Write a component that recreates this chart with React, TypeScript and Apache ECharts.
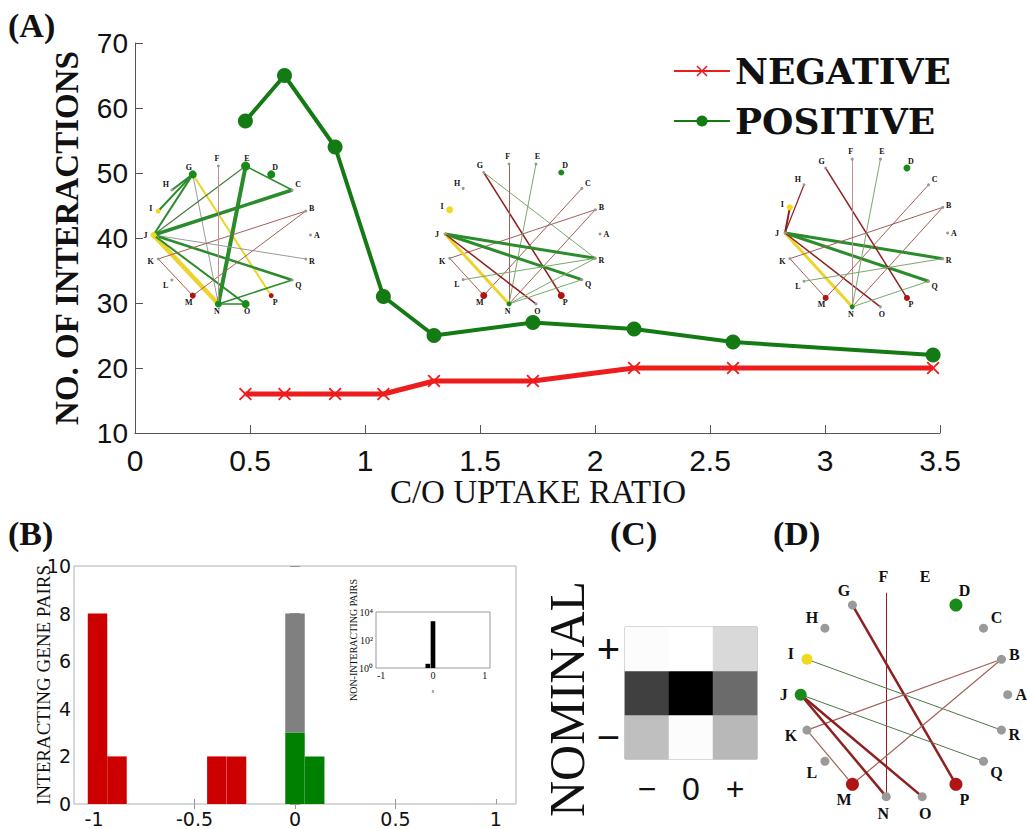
import React, { useEffect, useRef } from 'react';
import * as echarts from 'echarts';

// ---------- Panel A data ----------
const uptakeRatio = [0.48, 0.65, 0.87, 1.08, 1.3, 1.73, 2.17, 2.6, 3.47];
const negativeCounts = [16, 16, 16, 16, 18, 18, 20, 20, 20];
const positiveCounts = [58, 65, 54, 31, 25, 27, 26, 24, 22];

// ---------- Panel B data ----------
const histBinCenters = [-0.983, -0.886, -0.389, -0.291, 0.0, 0.098];
const histBinWidth = 0.097;
const histNegative = [8, 2, 2, 2, 0, 0];
const histPositive = [0, 0, 0, 0, 3, 2];
const histNeutral = [0, 0, 0, 0, 5, 0];

const insetBinCenters = [-0.1, 0.0];
const insetBinWidth = 0.09;
const insetCounts = [2, 2200];

// ---------- Panel C data ----------
const heatCategories = ['−', '0', '+'];
const heatRowMinus = [25, 1, 28];
const heatRowZero = [75, 100, 58];
const heatRowPlus = [1, 0, 15];

// ---------- Networks ----------
const geneNames = ['A', 'B', 'C', 'D', 'E', 'F', 'G', 'H', 'I', 'J', 'K', 'L', 'M', 'N', 'O', 'P', 'Q', 'R'];

const net1Nodes: Record<string, [string, number]> = { G: ['g', 8], E: ['g', 9], D: ['g', 8], O: ['g', 8], N: ['g', 7], J: ['y', 6], I: ['y', 5], M: ['r', 6], P: ['r', 5] };
const net1Edges: [string, string, string, number][] = [
  ['G', 'H', 'g', 2], ['G', 'I', 'g', 2], ['G', 'J', 'g', 2], ['G', 'N', 'gy', 1], ['G', 'P', 'y', 2],
  ['E', 'N', 'g', 4], ['E', 'J', 'dg', 1.2], ['E', 'C', 'g', 1.5], ['J', 'C', 'g', 3.5], ['J', 'R', 'gy', 1],
  ['J', 'Q', 'g', 2.5], ['J', 'N', 'y', 4.5], ['J', 'O', 'g', 2], ['K', 'B', 'br', 1], ['K', 'M', 'br', 1],
  ['M', 'B', 'br', 1], ['F', 'N', 'pk', 1], ['N', 'O', 'g', 1.5], ['N', 'Q', 'g', 1.5],
];

const net2Nodes: Record<string, [string, number]> = { D: ['g', 6], I: ['y', 7], M: ['r', 7], P: ['r', 7], N: ['g', 5] };
const net2Edges: [string, string, string, number][] = [
  ['G', 'P', 'r', 1.5], ['G', 'R', 'lg', 1], ['F', 'N', 'br', 1], ['E', 'N', 'lg', 1], ['C', 'M', 'br', 1],
  ['B', 'K', 'br', 1], ['B', 'N', 'br', 1], ['J', 'R', 'g', 3], ['J', 'Q', 'g', 3], ['J', 'N', 'y', 3],
  ['J', 'O', 'r', 1.5], ['K', 'M', 'br', 1], ['L', 'R', 'lg', 1], ['N', 'R', 'lg', 1], ['N', 'Q', 'lg', 1],
];

const net3Nodes: Record<string, [string, number]> = { D: ['g', 7], I: ['y', 6], M: ['r', 6], P: ['r', 6], N: ['g', 5] };
const net3Edges: [string, string, string, number][] = [
  ['H', 'J', 'r', 1.2], ['I', 'J', 'r', 2], ['J', 'R', 'g', 3], ['J', 'Q', 'g', 3], ['J', 'N', 'y', 3],
  ['J', 'O', 'r', 1.5], ['G', 'P', 'r', 1.5], ['F', 'N', 'pk', 1], ['E', 'N', 'lg', 1], ['C', 'M', 'br', 1],
  ['B', 'K', 'br', 1], ['B', 'N', 'br', 1], ['K', 'M', 'br', 1], ['L', 'R', 'lg', 1], ['N', 'Q', 'lg', 1],
];

const netDNodes: Record<string, [string, number]> = { D: ['g', 13], I: ['y', 11], J: ['g', 12], M: ['r', 13], P: ['r', 13] };
const netDEdges: [string, string, string, number][] = [
  ['G', 'P', 'r', 2.5], ['F', 'N', 'r', 1], ['I', 'R', 'dg', 1], ['J', 'Q', 'dg', 1], ['B', 'K', 'br', 1.2],
  ['B', 'M', 'br', 1.2], ['J', 'N', 'r', 2.5], ['J', 'O', 'r', 2.5], ['K', 'M', 'br', 1.2],
];

const NODE_COLORS: Record<string, string> = { g: '#1a8a1a', y: '#f0da1e', r: '#b01515', gray: '#9a9a9a' };
const EDGE_COLORS: Record<string, string> = {
  g: '#2a8c2a', dg: '#4a7a40', lg: '#7aa86a', y: '#ecd42c', r: '#8e2020', br: '#a06058', gy: '#9a9a9a', pk: '#c09090',
};

const RED = '#ee1d1d';
const GREEN = '#147a14';
const RED_X = 'path://M1,0L5,4L9,0L10,1L6,5L10,9L9,10L5,6L1,10L0,9L4,5L0,1Z';
const serif = 'Liberation Serif';

function networkSeries(
  axisIndex: number,
  nodes: Record<string, [string, number]>,
  edges: [string, string, string, number][],
  graySize: number,
  labelSize: number,
  labelDist: number,
  hidden: string[] = []
) {
  const data = geneNames.map((name, i) => {
    const a = (i * 20 * Math.PI) / 180;
    const st = nodes[name];
    const color = st ? NODE_COLORS[st[0]] : NODE_COLORS.gray;
    const size = hidden.includes(name) ? 0 : st ? st[1] : graySize;
    const d = Math.cos(a) > 0.9 ? labelDist * 0.8 : labelDist;
    return {
      name,
      value: [Math.cos(a), Math.sin(a)],
      symbolSize: size,
      itemStyle: { color },
      label: {
        show: true,
        position: 'inside',
        offset: [d * Math.cos(a), -d * Math.sin(a)],
        color: '#111',
        fontFamily: serif,
        fontWeight: 'bold',
        fontSize: labelSize,
        textBorderWidth: 0,
        formatter: '{b}',
      },
    };
  });
  const links = edges.map(([s, t, c, w]) => ({ source: s, target: t, lineStyle: { color: EDGE_COLORS[c], width: w, opacity: 1, curveness: 0 } }));
  return {
    type: 'graph',
    layout: 'none',
    coordinateSystem: 'cartesian2d',
    xAxisIndex: axisIndex,
    yAxisIndex: axisIndex,
    roam: false,
    silent: true,
    symbol: 'circle',
    data,
    links,
    lineStyle: { opacity: 1, curveness: 0 },
    emphasis: { disabled: true },
    z: 5,
  };
}

function histRenderer(color: string, width: number) {
  return (params: any, api: any) => {
    const x = api.value(0);
    const y0 = api.value(1);
    const y1 = api.value(2);
    if (y1 <= y0) return null;
    const p0 = api.coord([x - width / 2, y0]);
    const p1 = api.coord([x + width / 2, y1]);
    return {
      type: 'rect',
      shape: { x: p0[0], y: p1[1], width: p1[0] - p0[0], height: p0[1] - p1[1] },
      style: { fill: color },
    };
  };
}

function hiddenAxis(gridIndex: number) {
  return { gridIndex, type: 'value', min: -1, max: 1, show: false, splitLine: { show: false } };
}

function label(text: string, x: number, y: number, size: number, opts: any = {}) {
  return {
    type: 'text', x, y, rotation: opts.rotate ? Math.PI / 2 : 0,
    style: {
      text, fontFamily: serif, fontSize: size, fontWeight: opts.bold ? 'bold' : 'normal', fill: '#111',
      align: opts.align || 'left', verticalAlign: opts.valign || 'top',
      textAlign: opts.align || 'left', textVerticalAlign: opts.valign || 'top',
    },
  };
}

export default function App() {
  const ref = useRef<HTMLDivElement>(null);
  useEffect(() => {
    if (!ref.current) return;
    const chart = echarts.init(ref.current, null, { renderer: 'svg' });
    const heatData: [number, number, number][] = [];
    [heatRowMinus, heatRowZero, heatRowPlus].forEach((row, yi) => row.forEach((v, xi) => heatData.push([xi, yi, v])));

    const tickStyleA = { color: '#555', width: 1 };
    const option: any = {
      animation: false,
      textStyle: { fontFamily: 'Liberation Sans' },
      legend: {
        data: ['NEGATIVE', 'POSITIVE'],
        orient: 'vertical',
        left: 668,
        top: 48,
        itemWidth: 56,
        itemHeight: 14,
        itemGap: 14,
        selectedMode: false,
        textStyle: { fontFamily: 'DejaVu Serif', fontWeight: 'bold', fontSize: 36, color: '#111' },
      },
      graphic: [
        label('(A)', 8, 8, 34, { bold: true }),
        label('(B)', 8, 516, 34, { bold: true }),
        label('(C)', 610, 516, 34, { bold: true }),
        label('(D)', 773, 516, 34, { bold: true }),
        label('NO. OF INTERACTIONS', 67, 238, 33, { rotate: true, bold: true, align: 'center', valign: 'middle' }),
        label('C/O UPTAKE RATIO', 538, 492, 33, { align: 'center', valign: 'middle' }),
        label('INTERACTING GENE PAIRS', 43, 685, 19, { rotate: true, align: 'center', valign: 'middle' }),
        label('NON-INTERACTING PAIRS', 353, 640, 10, { rotate: true, align: 'center', valign: 'middle' }),
        label('NOMINAL', 567, 699, 50, { rotate: true, align: 'center', valign: 'middle' }),
      ],
      grid: [
        { left: 135, top: 43, width: 805, height: 390, outerBoundsMode: 'none' },
        { left: 74, top: 566, width: 442, height: 238, show: true, borderColor: '#b0b0b0', borderWidth: 1, outerBoundsMode: 'none' },
        { left: 376, top: 612, width: 114, height: 56, show: true, borderColor: '#999', borderWidth: 1, backgroundColor: '#fff', outerBoundsMode: 'none', z: 4 },
        { left: 625, top: 627, width: 132, height: 132, show: true, borderColor: '#999', borderWidth: 1, outerBoundsMode: 'none' },
        { left: 153.5, top: 165, width: 157, height: 140, outerBoundsMode: 'none' },
        { left: 445, top: 163, width: 155, height: 142, outerBoundsMode: 'none' },
        { left: 785, top: 158, width: 162.6, height: 150, outerBoundsMode: 'none' },
        { left: 800.7, top: 591.2, width: 207, height: 207, outerBoundsMode: 'none' },
      ],
      xAxis: [
        {
          gridIndex: 0, type: 'value', min: 0, max: 3.5, interval: 0.5,
          axisLine: { show: true, lineStyle: tickStyleA },
          axisTick: { show: true, inside: true, length: 8, lineStyle: tickStyleA },
          splitLine: { show: false },
          axisLabel: { fontSize: 30, color: '#111', margin: 12 },
        },
        {
          gridIndex: 1, type: 'value', min: -1.1, max: 1.1,
          axisLine: { show: false },
          axisTick: { show: true, inside: true, length: 5, customValues: [-1, -0.5, 0, 0.5, 1], lineStyle: { color: '#999' } },
          splitLine: { show: false },
          axisLabel: { customValues: [-1, -0.5, 0, 0.5, 1], fontSize: 19, fontFamily: 'DejaVu Sans', color: '#111', margin: 5 },
        },
        {
          gridIndex: 1, type: 'value', position: 'top', min: -1.1, max: 1.1,
          axisLine: { show: false },
          axisTick: { show: true, inside: true, length: 5, customValues: [-0.5, 0, 0.5], lineStyle: { color: '#999' } },
          splitLine: { show: false },
          axisLabel: { show: false },
        },
        {
          gridIndex: 2, type: 'value', min: -1.1, max: 1.1,
          axisLine: { show: false },
          axisTick: { show: true, inside: true, length: 2, customValues: [-1, 0, 1], lineStyle: { color: '#999' } },
          splitLine: { show: false },
          axisLabel: { customValues: [-1, 0, 1], fontSize: 10, fontFamily: serif, color: '#111', margin: 2 },
          name: 's', nameLocation: 'middle', nameGap: 20, nameTextStyle: { fontSize: 6, fontFamily: serif, color: '#333' },
        },
        {
          gridIndex: 3, type: 'category', data: heatCategories,
          axisLine: { show: false }, axisTick: { show: false }, splitLine: { show: false },
          axisLabel: { fontSize: 32, color: '#111', margin: 14 },
        },
        hiddenAxis(4), hiddenAxis(5), hiddenAxis(6), hiddenAxis(7),
      ],
      yAxis: [
        {
          gridIndex: 0, type: 'value', min: 10, max: 70, interval: 10,
          axisLine: { show: true, lineStyle: tickStyleA },
          axisTick: { show: true, inside: true, length: 8, lineStyle: tickStyleA },
          splitLine: { show: false },
          axisLabel: { fontSize: 28, color: '#111', margin: 7 },
        },
        {
          gridIndex: 1, type: 'value', min: 0, max: 10, interval: 2,
          axisLine: { show: false },
          axisTick: { show: true, inside: true, length: 5, lineStyle: { color: '#999' } },
          splitLine: { show: false },
          axisLabel: { fontSize: 19, fontFamily: 'DejaVu Sans', color: '#111', margin: 3 },
        },
        {
          gridIndex: 1, type: 'value', position: 'right', min: 0, max: 10, interval: 2,
          axisLine: { show: false },
          axisTick: { show: true, inside: true, length: 5, lineStyle: { color: '#999' } },
          splitLine: { show: false },
          axisLabel: { show: false },
        },
        {
          gridIndex: 2, type: 'log', logBase: 10, min: 1, max: 10000,
          axisLine: { show: false },
          axisTick: { show: false },
          splitLine: { show: false },
          axisLabel: {
            fontSize: 10, fontFamily: serif, color: '#111', margin: 3,
            formatter: (v: number) => (v === 1 ? '10⁰' : v === 100 ? '10²' : v === 10000 ? '10⁴' : ''),
          },
        },
        {
          gridIndex: 3, type: 'category', data: heatCategories,
          axisLine: { show: false }, axisTick: { show: false }, splitLine: { show: false },
          axisLabel: { fontSize: 40, color: '#111', margin: 5 },
        },
        hiddenAxis(4), hiddenAxis(5), hiddenAxis(6), hiddenAxis(7),
      ],
      visualMap: [
        { type: 'continuous', show: false, seriesIndex: 6, dimension: 2, min: 0, max: 100, inRange: { color: ['#ffffff', '#000000'] } },
      ],
      series: [
        {
          name: 'NEGATIVE', type: 'line', xAxisIndex: 0, yAxisIndex: 0,
          data: uptakeRatio.map((x, i) => [x, negativeCounts[i]]),
          symbol: RED_X, symbolSize: 13, showAllSymbol: true,
          lineStyle: { color: RED, width: 5 }, itemStyle: { color: RED }, z: 3,
        },
        {
          name: 'POSITIVE', type: 'line', xAxisIndex: 0, yAxisIndex: 0,
          data: uptakeRatio.map((x, i) => [x, positiveCounts[i]]),
          symbol: 'circle', symbolSize: 15, showAllSymbol: true,
          lineStyle: { color: GREEN, width: 4 }, itemStyle: { color: GREEN }, z: 3,
        },
        {
          type: 'custom', xAxisIndex: 1, yAxisIndex: 1, silent: true,
          renderItem: histRenderer('#cc0000', histBinWidth),
          data: histBinCenters.map((x, i) => [x, 0, histNegative[i]]),
          encode: { x: 0, y: [1, 2] },
        },
        {
          type: 'custom', xAxisIndex: 1, yAxisIndex: 1, silent: true,
          renderItem: histRenderer('#008000', histBinWidth),
          data: histBinCenters.map((x, i) => [x, 0, histPositive[i]]),
          encode: { x: 0, y: [1, 2] },
        },
        {
          type: 'custom', xAxisIndex: 1, yAxisIndex: 1, silent: true,
          renderItem: histRenderer('#808080', histBinWidth),
          data: histBinCenters.map((x, i) => [x, histPositive[i], histPositive[i] + histNeutral[i]]),
          encode: { x: 0, y: [1, 2] },
        },
        {
          type: 'custom', xAxisIndex: 3, yAxisIndex: 3, silent: true, z: 6,
          renderItem: histRenderer('#000000', insetBinWidth),
          data: insetBinCenters.map((x, i) => [x, 1, insetCounts[i]]),
          encode: { x: 0, y: [1, 2] },
        },
        {
          type: 'heatmap', xAxisIndex: 4, yAxisIndex: 4, silent: true,
          data: heatData, itemStyle: { borderWidth: 0 },
        },
        networkSeries(5, net1Nodes, net1Edges, 3, 8, 8),
        networkSeries(6, net2Nodes, net2Edges, 3, 8, 8),
        networkSeries(7, net3Nodes, net3Edges, 3, 8, 8),
        networkSeries(8, netDNodes, netDEdges, 9, 16, 17, ['E', 'F']),
      ],
    };
    chart.setOption(option);
    return () => chart.dispose();
  }, []);
  return <div ref={ref} style={{ position: 'absolute', left: 0, top: 0, width: 1027, height: 829, background: '#fff' }} />;
}
